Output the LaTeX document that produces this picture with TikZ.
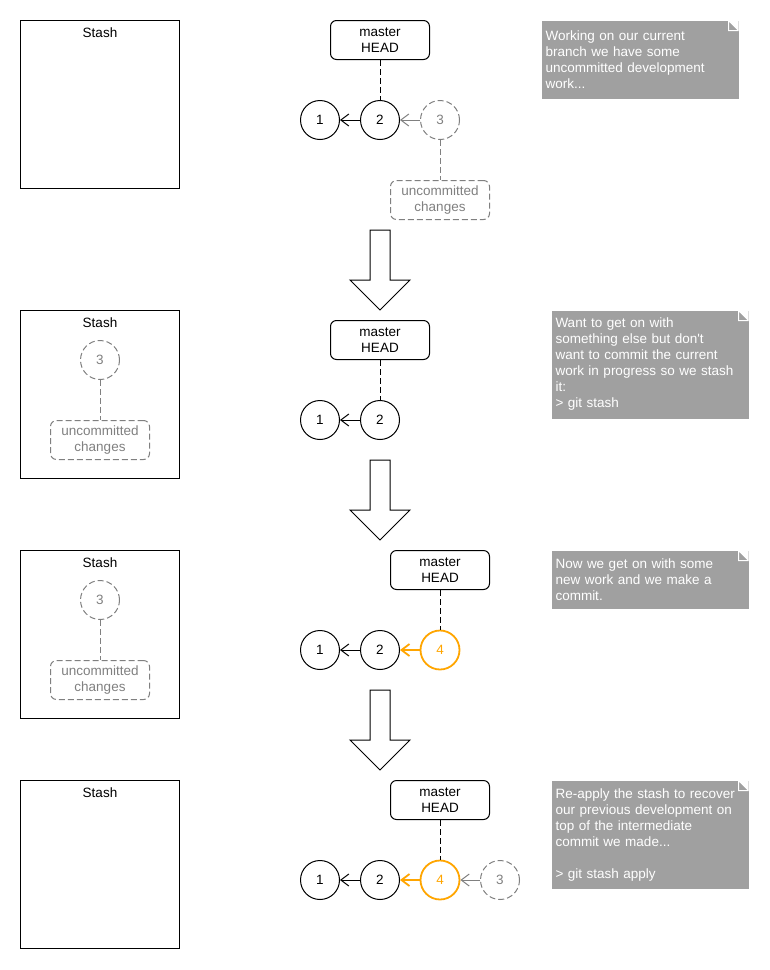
\documentclass[tikz,border=0pt]{standalone}
\usepackage{fontspec}
\setmainfont{Liberation Sans}
\usetikzlibrary{arrows.meta}
\definecolor{ghost}{RGB}{128,128,128}
\definecolor{notefill}{RGB}{160,160,160}
\definecolor{neworange}{RGB}{255,165,0}
\begin{document}
\begin{tikzpicture}[x=1pt,y=-1pt,
  font=\fontsize{13.5}{16}\selectfont, line width=1pt,
  commit/.style={circle,draw,minimum size=39pt,inner sep=0pt},
  ghostcommit/.style={commit,draw=ghost,text=ghost,dash pattern=on 6pt off 3pt},
  newcommit/.style={commit,draw=neworange,text=neworange,line width=1.8pt},
  ref/.style={draw,rounded corners=6pt,minimum width=99pt,minimum height=39pt,
    align=center,inner sep=0pt},
  wip/.style={ref,draw=ghost,text=ghost,dash pattern=on 6pt off 3pt},
  stashbox/.style={draw,minimum width=159pt,minimum height=168pt,
    anchor=north west,inner sep=0pt},
  link/.style={dash pattern=on 6pt off 3pt},
  ghostlink/.style={draw=ghost,dash pattern=on 6pt off 3pt},
  parent/.style={-{Straight Barb[length=8pt,width=12pt]}},
  note/.style={fill=notefill,text=white,anchor=north west,align=left,
    inner sep=4pt,text width=189pt,minimum width=197pt,
    path picture={
      \fill[white] ([xshift=-10pt]path picture bounding box.north east)
        -- (path picture bounding box.north east)
        -- ([yshift=-10pt]path picture bounding box.north east) -- cycle;
      \filldraw[fill=notefill,draw=white,line width=1pt]
        ([xshift=-10pt]path picture bounding box.north east)
        -- ([xshift=-10pt,yshift=-10pt]path picture bounding box.north east)
        -- ([yshift=-10pt]path picture bounding box.north east) -- cycle;
    }},
  bigarrow/.style={draw,line width=1pt,fill=white}
]
\useasboundingbox (0,0) rectangle (770,970);

% ---------- step 1: work in progress on the branch ----------
\node[stashbox] (s1) at (20,20) {};
\node (s1t) at (100,33) {Stash};
\node[ref] (m1) at (380,40) {master\\HEAD};
\node[commit] (a1) at (320,120) {1};
\node[commit] (a2) at (380,120) {2};
\node[ghostcommit] (a3) at (440,120) {3};
\node[wip] (w1) at (440,200) {uncommitted\\changes};
\draw[link] (m1) -- (a2);
\draw[parent] (a2) -- (a1);
\draw[parent,ghost] (a3) -- (a2);
\draw[ghostlink] (a3) -- (w1);
\node[note,minimum height=78pt] (n1) at (541,20)
  {Working on our current\\branch we have some\\uncommitted development\\work...};

% ---------- step 2: git stash ----------
\node[stashbox] (s2) at (20,310) {};
\node (s2t) at (100,323) {Stash};
\node[ghostcommit] (b3) at (100,360) {3};
\node[wip] (w2) at (100,440) {uncommitted\\changes};
\draw[ghostlink] (b3) -- (w2);
\node[ref] (m2) at (380,340) {master\\HEAD};
\node[commit] (b1) at (320,420) {1};
\node[commit] (b2) at (380,420) {2};
\draw[link] (m2) -- (b2);
\draw[parent] (b2) -- (b1);
\node[note,minimum height=108pt] (n2) at (551,310)
  {Want to get on with\\something else but don\textquotesingle t\\want to commit the current\\work in progress so we stash\\it:\\> git stash};

% ---------- step 3: a new commit ----------
\node[stashbox] (s3) at (20,550) {};
\node (s3t) at (100,563) {Stash};
\node[ghostcommit] (c3s) at (100,600) {3};
\node[wip] (w3) at (100,680) {uncommitted\\changes};
\draw[ghostlink] (c3s) -- (w3);
\node[ref] (m3) at (440,570) {master\\HEAD};
\node[commit] (c1) at (320,650) {1};
\node[commit] (c2) at (380,650) {2};
\node[newcommit] (c4) at (440,650) {4};
\draw[link] (m3) -- (c4);
\draw[parent] (c2) -- (c1);
\draw[parent,neworange,line width=1.8pt] (c4) -- (c2);
\node[note,minimum height=58pt] (n3) at (551,550)
  {Now we get on with some\\new work and we make a\\commit.};

% ---------- step 4: git stash apply ----------
\node[stashbox] (s4) at (20,780) {};
\node (s4t) at (100,793) {Stash};
\node[ref] (m4) at (440,800) {master\\HEAD};
\node[commit] (d1) at (320,880) {1};
\node[commit] (d2) at (380,880) {2};
\node[newcommit] (d4) at (440,880) {4};
\node[ghostcommit] (d3) at (500,880) {3};
\draw[link] (m4) -- (d4);
\draw[parent] (d2) -- (d1);
\draw[parent,neworange,line width=1.8pt] (d4) -- (d2);
\draw[parent,ghost] (d3) -- (d4);
\node[note,minimum height=108pt] (n4) at (551,780)
  {Re-apply the stash to recover\\our previous development on\\top of the intermediate\\commit we made...\\[16pt]> git stash apply};

% ---------- transition arrows between steps ----------
\foreach \dy in {0,230,460}{
  \draw[bigarrow] (370,230+\dy) -- (390,230+\dy) -- (390,280+\dy) -- (410,280+\dy)
    -- (380,310+\dy) -- (350,280+\dy) -- (370,280+\dy) -- cycle;
}
\end{tikzpicture}
\end{document}
